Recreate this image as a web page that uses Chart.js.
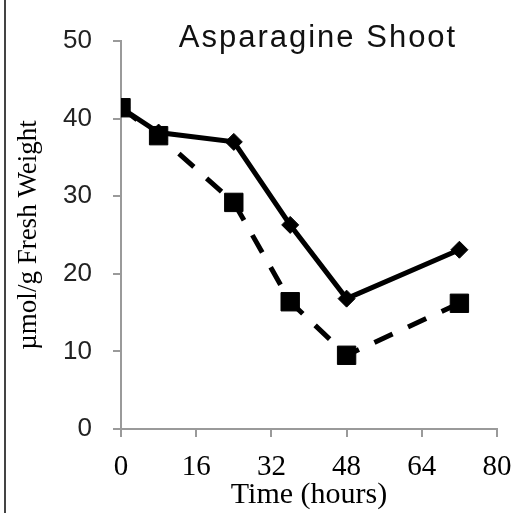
<!DOCTYPE html>
<html>
<head>
<meta charset="utf-8">
<script src="https://cdn.jsdelivr.net/npm/chart.js@4"></script>
<style>
  html, body { margin: 0; padding: 0; background: #fff; }
  #wrap { position: relative; width: 514px; height: 513px; }
  #edge { position: absolute; left: 4px; top: 0; width: 2px; height: 513px; background: #444; }
  canvas { position: absolute; left: 0; top: 0; }
</style>
</head>
<body>
<div id="wrap">
  <canvas id="c" width="514" height="513"></canvas>
  <div id="edge"></div>
</div>
<script>
const hours = [0, 8, 24, 36, 48, 72];
const solidSeries = [41.4, 38.2, 37.0, 26.3, 16.8, 23.1];
const dashedSeries = [41.4, 37.8, 29.2, 16.4, 9.5, 16.2];
const xTicks = [0, 16, 32, 48, 64, 80];
const yTicks = [0, 10, 20, 30, 40, 50];
const chartTitle = 'Asparagine Shoot';
const xTitle = 'Time (hours)';
const yTitle = 'µmol/g Fresh Weight';

const toPoints = (xs, ys) => xs.map((x, i) => ({ x: x, y: ys[i] }));

const titlePlugin = {
  id: 'insideTitle',
  afterDraw(chart) {
    const ctx = chart.ctx;
    const a = chart.chartArea;
    ctx.save();
    ctx.font = '31px "Liberation Sans", Arial, sans-serif';
    if ('letterSpacing' in ctx) ctx.letterSpacing = '2px';
    ctx.fillStyle = '#111';
    ctx.textAlign = 'center';
    ctx.textBaseline = 'alphabetic';
    ctx.fillText(chartTitle, (a.left + a.right) / 2 + 9, a.top + 6);
    ctx.restore();
  }
};

const axisGray = '#9a9a9a';

new Chart(document.getElementById('c'), {
  type: 'line',
  data: {
    datasets: [
      {
        data: toPoints(hours, dashedSeries),
        borderColor: '#000',
        backgroundColor: '#000',
        borderWidth: 5,
        borderDash: [20, 17],
        pointStyle: 'rect',
        pointRadius: 13,
        pointBorderWidth: 1,
        tension: 0
      },
      {
        data: toPoints(hours, solidSeries),
        borderColor: '#000',
        backgroundColor: '#000',
        borderWidth: 5,
        pointStyle: 'rectRot',
        pointRadius: 8.5,
        pointBorderWidth: 1,
        tension: 0
      }
    ]
  },
  options: {
    responsive: false,
    animation: false,
    layout: { padding: { left: 10, top: 41, right: 17, bottom: 0 } },
    plugins: { legend: { display: false }, tooltip: { enabled: false } },
    scales: {
      x: {
        type: 'linear',
        min: 0,
        max: 80,
        afterBuildTicks: (s) => { s.ticks = xTicks.map(v => ({ value: v })); },
        afterFit: (s) => { s.height = 84; s.paddingRight = 0; s.paddingLeft = 0; },
        ticks: {
          color: '#000',
          padding: 13,
          font: { family: '"Liberation Serif", "Times New Roman", serif', size: 29 },
          maxRotation: 0
        },
        grid: { drawOnChartArea: false, drawTicks: true, tickLength: 8, color: axisGray, lineWidth: 2 },
        border: { display: true, color: axisGray, width: 2 },
        title: {
          display: true,
          text: xTitle,
          color: '#000',
          font: { family: '"Liberation Serif", "Times New Roman", serif', size: 30 },
          padding: { top: 0, bottom: 0 }
        }
      },
      y: {
        type: 'linear',
        min: 0,
        max: 50,
        afterBuildTicks: (s) => { s.ticks = yTicks.map(v => ({ value: v })); },
        afterFit: (s) => { s.width = 111; s.paddingTop = 0; s.paddingBottom = 0; },
        ticks: {
          color: '#222',
          padding: 21,
          font: { family: '"Liberation Sans", Arial, sans-serif', size: 26 }
        },
        grid: { drawOnChartArea: false, drawTicks: true, tickLength: 8, color: axisGray, lineWidth: 2 },
        border: { display: true, color: axisGray, width: 2 },
        title: {
          display: true,
          text: yTitle,
          color: '#000',
          font: { family: '"Liberation Serif", "Times New Roman", serif', size: 27 },
          padding: { top: 3, bottom: 0 }
        }
      }
    }
  },
  plugins: [titlePlugin]
});
</script>
</body>
</html>
